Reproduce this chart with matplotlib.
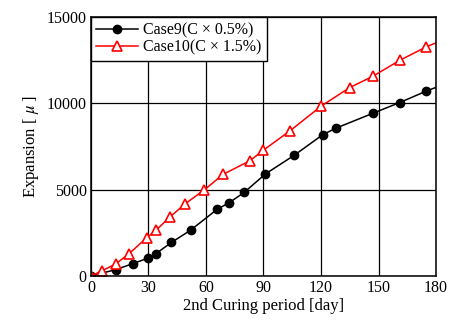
import matplotlib.pyplot as plt
import numpy as np

plt.rcParams['font.family'] = ['Liberation Serif', 'DejaVu Serif']
plt.rcParams['mathtext.fontset'] = 'stix'

# expansion measurements vs. 2nd curing period
day_case9 = [0, 13, 22, 30, 34, 42, 52, 66, 72, 80, 91, 106, 121, 128, 147, 161, 175, 188]
exp_case9 = [0, 370, 720, 1040, 1300, 1940, 2650, 3870, 4230, 4840, 5900, 6980, 8180, 8560, 9410, 10030, 10700, 11250]

day_case10 = [0, 6, 13, 20, 29, 34, 41, 49, 59, 69, 83, 90, 104, 120, 135, 147, 161, 175, 188]
exp_case10 = [0, 310, 700, 1300, 2200, 2650, 3390, 4160, 4970, 5880, 6670, 7280, 8410, 9820, 10900, 11550, 12470, 13260, 13850]

fig = plt.figure(figsize=(4.5, 3.27), dpi=100)
ax = fig.add_axes([0.202, 0.156, 0.767, 0.793])

ax.plot(day_case9, exp_case9, color='black', lw=1.1, marker='o', ms=6,
        label='Case9(C \u00d7 0.5%)')
ax.plot(day_case10, exp_case10, color='red', lw=1.1, marker='^', ms=6.5,
        mfc='white', mec='red', mew=1.2, label='Case10(C \u00d7 1.5%)')

ax.set_xlim(0, 180)
ax.set_ylim(0, 15000)
ax.set_xticks(np.arange(0, 181, 30))
ax.set_yticks([0, 5000, 10000, 15000])
ax.grid(True, color='black', lw=0.9)
ax.tick_params(length=0, labelsize=11.5, pad=3)
for s in ax.spines.values():
    s.set_linewidth(1.1)

ax.set_xlabel('2nd Curing period [day]', fontsize=12, labelpad=1)
ax.set_ylabel('Expansion [ $\\mu$ ]', fontsize=12, labelpad=4)

leg = ax.legend(loc='upper left', bbox_to_anchor=(0, 1), borderaxespad=0,
                fontsize=11.5, fancybox=False, framealpha=1, edgecolor='black',
                handlelength=2.6, handletextpad=0.3, labelspacing=0.1,
                borderpad=0.35)
leg.get_frame().set_linewidth(1.0)

fig.savefig('out.png', dpi=100)
